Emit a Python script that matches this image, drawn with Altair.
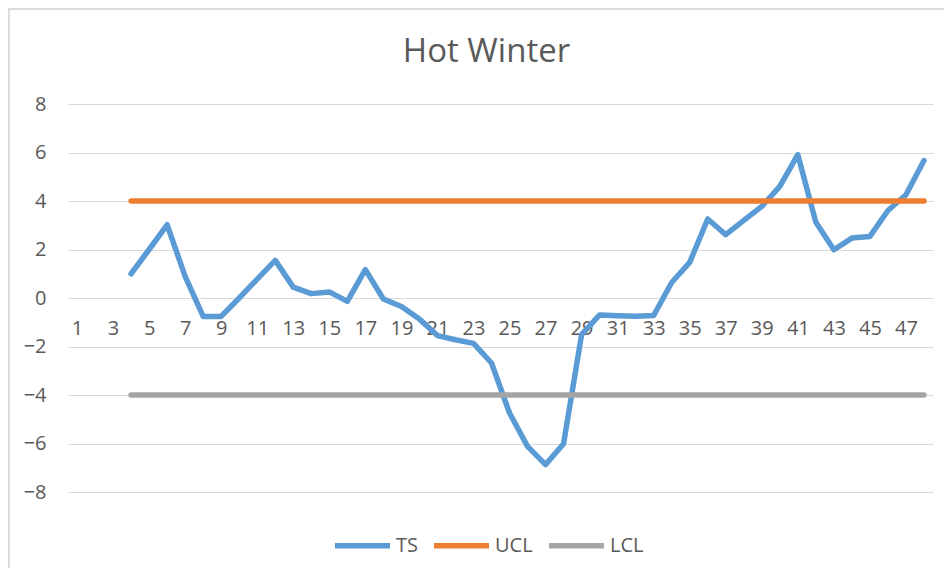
import altair as alt
import pandas as pd

categories = list(range(1, 49))
ts_cats = list(range(4, 49))
ts_values = [1.0, 2.0, 3.02, 0.89, -0.76, -0.76, 0.0, 0.78, 1.55, 0.45, 0.18, 0.25,
             -0.14, 1.17, -0.04, -0.35, -0.87, -1.55, -1.72, -1.87, -2.68, -4.74,
             -6.12, -6.87, -6.01, -1.51, -0.70, -0.73, -0.75, -0.72, 0.64, 1.47,
             3.26, 2.61, 3.2, 3.78, 4.6, 5.91, 3.12, 1.99, 2.47, 2.54, 3.61, 4.26, 5.67]
ucl_value = 4
lcl_value = -4
series_names = ["TS", "UCL", "LCL"]
series_colors = ["#5B9BD5", "#ED7D31", "#A5A5A5"]
y_ticks = [-8, -6, -4, -2, 0, 2, 4, 6, 8]
x_ticks = list(range(1, 48, 2))

rows = []
for c, v in zip(ts_cats, ts_values):
    rows.append({"cat": c, "value": v, "series": "TS"})
for c in ts_cats:
    rows.append({"cat": c, "value": ucl_value, "series": "UCL"})
for c in ts_cats:
    rows.append({"cat": c, "value": lcl_value, "series": "LCL"})
df = pd.DataFrame(rows)

FONT = "Open Sans"
GREY = "#595959"

lines = alt.Chart(df).mark_line(strokeWidth=5.5, strokeCap="round", strokeJoin="round").encode(
    x=alt.X("cat:O", scale=alt.Scale(domain=categories, type="point", padding=0.5),
            axis=alt.Axis(values=x_ticks, title=None, labelAngle=0, domain=False, ticks=False,
                          grid=False, offset=-194, labelPadding=20, labelFontSize=20,
                          labelColor=GREY, labelFont=FONT, labelOverlap=False)),
    y=alt.Y("value:Q", scale=alt.Scale(domain=[-8, 8], nice=False),
            axis=alt.Axis(values=y_ticks, title=None, domain=False, ticks=False,
                          gridColor="#d9d9d9", gridWidth=1, labelPadding=22, labelFontSize=20,
                          labelColor=GREY, labelFont=FONT)),
    color=alt.Color("series:N", scale=alt.Scale(domain=series_names, range=series_colors),
                    sort=series_names,
                    legend=alt.Legend(title=None, orient="none", direction="horizontal",
                                      legendX=264, legendY=411, symbolType="stroke",
                                      symbolStrokeWidth=5.5, symbolSize=3025,
                                      labelFontSize=20, labelColor=GREY, labelFont=FONT,
                                      labelOffset=3, columnPadding=5)),
    order=alt.Order("cat:O"),
)

frame_df = pd.DataFrame({"k": [0]})
frame = alt.Chart(frame_df).mark_rect(fill=None, stroke="#dadada", strokeWidth=2).encode(
    x=alt.value(-59), x2=alt.value(900), y=alt.value(-95), y2=alt.value(480)
)

chart = alt.layer(frame, lines).properties(
    width=865, height=388,
    padding={"left": 60, "top": 96, "right": 11, "bottom": 76},
    autosize=alt.AutoSizeParams(type="none"),
    title=alt.Title("Hot Winter", fontSize=33, font=FONT, color=GREY, fontWeight="normal",
                    anchor="middle", dx=-14, offset=-61),
).configure_view(stroke=None)

chart.save("out.html", embed_options={"renderer": "svg", "actions": False})
